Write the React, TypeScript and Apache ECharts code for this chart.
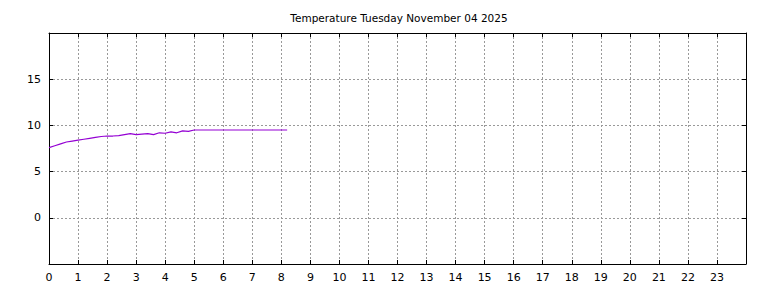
import React, { useEffect, useRef } from "react";
import * as echarts from "echarts";

const titleText = "Temperature Tuesday November 04 2025";
const hours = [0, 0.2, 0.4, 0.6, 0.8, 1.0, 1.2, 1.4, 1.6, 1.8, 2.0, 2.2, 2.4, 2.6, 2.8, 3.0, 3.2, 3.4, 3.6, 3.8, 4.0, 4.2, 4.4, 4.6, 4.8, 5.0, 5.5, 6.0, 6.5, 7.0, 7.5, 8.0, 8.2];
const temps = [7.6, 7.8, 8.0, 8.2, 8.3, 8.4, 8.5, 8.6, 8.7, 8.8, 8.85, 8.85, 8.9, 9.0, 9.1, 9.0, 9.05, 9.1, 9.0, 9.2, 9.15, 9.3, 9.2, 9.4, 9.35, 9.5, 9.5, 9.5, 9.5, 9.5, 9.5, 9.5, 9.5];
const xTicksShown = Array.from({ length: 24 }, (_, i) => i);
const yTicksShown = [0, 5, 10, 15];

export default function App() {
  const ref = useRef<HTMLDivElement>(null);
  useEffect(() => {
    document.body.style.margin = "0";
    const chart = echarts.init(ref.current!, undefined, { renderer: "svg" });
    const font = "DejaVu Sans";
    const axisLine = { show: true, onZero: false, lineStyle: { color: "#000", width: 1 } };
    const tick = { show: true, inside: true, length: 4, lineStyle: { color: "#000" } };
    const gridLine = { show: true, lineStyle: { color: "#999", type: [2, 2] as any, width: 1 } };
    chart.setOption({
      animation: false,
      title: {
        text: titleText,
        left: 394,
        textAlign: "center",
        top: 7,
        textStyle: { fontFamily: font, fontSize: 10.5, fontWeight: "normal", color: "#000" },
      },
      grid: { left: 49, right: 22, top: 33, bottom: 24, containLabel: false },
      xAxis: [
        {
          type: "value",
          min: 0,
          max: 24,
          interval: 1,
          axisLine,
          axisTick: tick,
          splitLine: gridLine,
          axisLabel: {
            fontFamily: font,
            fontSize: 11,
            color: "#000",
            margin: 8,
            formatter: (v: number) => (xTicksShown.includes(v) ? String(v) : ""),
          },
        },
        {
          type: "value",
          position: "top",
          min: 0,
          max: 24,
          interval: 1,
          axisLine,
          axisTick: tick,
          splitLine: { show: false },
          axisLabel: { show: false },
        },
      ],
      yAxis: [
        {
          type: "value",
          min: -5,
          max: 20,
          interval: 5,
          axisLine,
          axisTick: tick,
          splitLine: gridLine,
          axisLabel: {
            fontFamily: font,
            fontSize: 11,
            color: "#000",
            margin: 8,
            formatter: (v: number) => (yTicksShown.includes(v) ? String(v) : ""),
          },
        },
        {
          type: "value",
          position: "right",
          min: -5,
          max: 20,
          interval: 5,
          axisLine,
          axisTick: tick,
          splitLine: { show: false },
          axisLabel: { show: false },
        },
      ],
      series: [
        {
          type: "line",
          data: hours.map((h, i) => [h, temps[i]]),
          showSymbol: false,
          symbol: "none",
          lineStyle: { color: "#9400d3", width: 1.2 },
          xAxisIndex: 0,
          yAxisIndex: 0,
        },
      ],
    });
    return () => chart.dispose();
  }, []);
  return <div ref={ref} style={{ width: 768, height: 288 }} />;
}
